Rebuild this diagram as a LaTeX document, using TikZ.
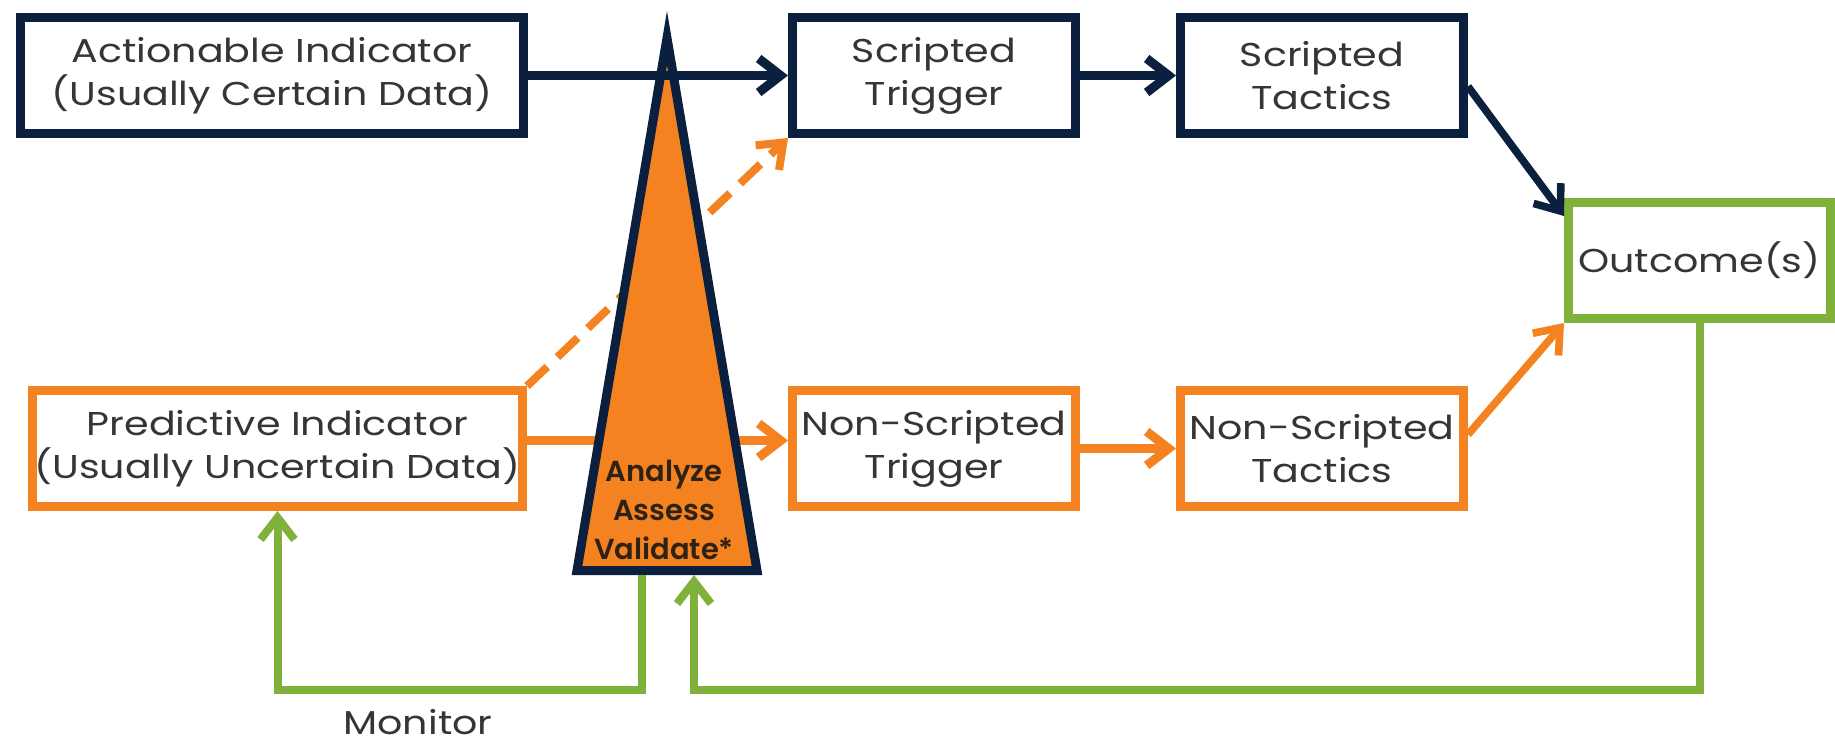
\documentclass[tikz,border=0pt]{standalone}
\usepackage{fontspec}
\setmainfont{Poppins}[FakeStretch=1.2]
\newfontfamily\trifont{Poppins SemiBold}
\usetikzlibrary{arrows.meta}
\definecolor{navy}{HTML}{0B1F3F}
\definecolor{orng}{HTML}{F58220}
\definecolor{grn}{HTML}{80B13B}
\definecolor{txt}{HTML}{353535}
\definecolor{tritxt}{HTML}{2E2214}
\begin{document}
\begin{tikzpicture}[x=0.5pt,y=-0.5pt,
  box/.style={draw=#1, line width=4.5pt, fill=white, minimum height=58pt,
    align=center, text=txt, inner sep=0pt,
    font=\fontsize{16.5}{21.5}\selectfont},
  tip/.style={-{Straight Barb[length=11pt,width=17pt]}},
  conn/.style={draw=#1, line width=4.5pt, tip},
  thin/.style={draw=#1, line width=3.8pt, tip},
  dashconn/.style={draw=orng, line width=4pt, dash pattern=on 14pt off 7pt, tip},
  greenline/.style={draw=grn, line width=4pt, tip},
  lbl/.style={text=txt, font=\fontsize{16.5}{21.5}\selectfont, inner sep=0pt}
]
\useasboundingbox (0,0) rectangle (1835,745);

% boxes
\node[box=navy, minimum width=251.5pt] (ai) at (272,75.5) {Actionable Indicator\\(Usually Certain Data)};
\node[box=navy, minimum width=141.5pt] (st) at (934,75.5) {Scripted\\Trigger};
\node[box=navy, minimum width=141.5pt] (sct) at (1322,75.5) {Scripted\\Tactics};
\node[box=orng, minimum width=245pt] (pi) at (277.5,448.5) {Predictive Indicator\\(Usually Uncertain Data)};
\node[box=orng, minimum width=141.5pt] (nst) at (934,448.5) {Non-Scripted\\Trigger};
\node[box=orng, minimum width=141.5pt] (nsc) at (1322,448.5) {Non-Scripted\\Tactics};
\node[box=grn, minimum width=131pt] (out) at (1699.5,260.5) {Outcome(s)};

% orange connectors under the triangle
\draw[conn=orng] ([yshift=4pt]pi.east) -- ([yshift=4pt]nst.west);
\draw[dashconn] (pi.north east) -- (st.south west);

% triangle
\coordinate (apex) at (667,38);
\coordinate (bl) at (577,570.5);
\coordinate (br) at (757,570.5);
\draw[navy, line width=4.5pt, fill=orng, line join=miter] (apex) -- (bl) -- (br) -- cycle;
\node[text=tritxt, align=center, inner sep=0pt,
  font=\trifont\fontsize{14.5}{19.5}\selectfont] (aav) at (664,510) {Analyze\\Assess\\Validate*};

% navy connectors
\draw[conn=navy] (ai.east) -- (st.west);
\draw[conn=navy] (st.east) -- (sct.west);
\draw[thin=navy] ([yshift=-5.5pt]sct.east) -- ([yshift=-9pt]out.north west);
\draw[conn=orng] (nst.east) -- (nsc.west);
\draw[thin=orng] ([yshift=7pt]nsc.east) -- (out.south west);

% green feedback loops
\coordinate (g1) at (642,575);
\coordinate (g2) at (694,575);
\coordinate (gb) at (0,690);
\draw[greenline] (g1) -- (g1 |- gb) -| (pi.south);
\draw[greenline] (out.south) |- (g2 |- gb) -- (g2);
\node[lbl] (mon) at (418,722) {Monitor};
\end{tikzpicture}
\end{document}
